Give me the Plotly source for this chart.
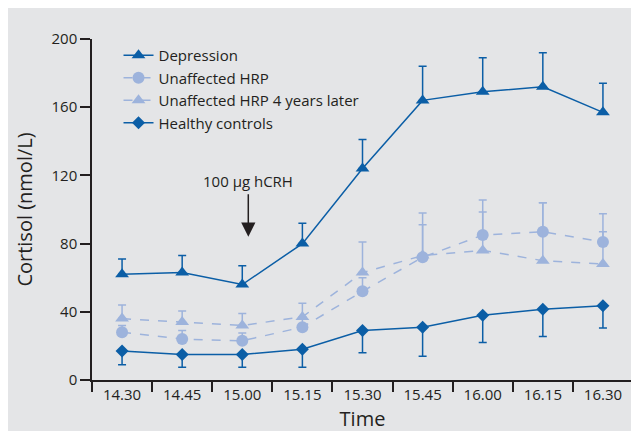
import plotly.graph_objects as go

times = ["14.30", "14.45", "15.00", "15.15", "15.30", "15.45", "16.00", "16.15", "16.30"]

depression = [62, 63, 56, 80, 124, 164, 169, 172, 157]
depression_err_up = [9, 10, 11, 12, 17, 20, 20, 20, 17]

hrp = [28, 24, 23, 31, 52, 72, 85, 87, 81]
hrp_err_up = [4, 5, 4.5, 5, 8, 19, 20.5, 17, 16.5]

hrp4 = [36, 34, 32, 37, 63, 73, 76, 70, 68]
hrp4_err_up = [8, 6.5, 7, 8, 18, 25, 22.5, 34, 19]

healthy = [17, 15, 15, 18, 29, 31, 38, 41.5, 43.5]
healthy_err_down = [8, 7.5, 7.5, 10.5, 13, 17, 16, 16, 13]

dark = "#0b5ea6"
light = "#9db3dc"
ink = "#231f20"
bg = "#e4e5e7"
font_family = "Open Sans, Noto Sans, sans-serif"

fig = go.Figure()

fig.add_trace(go.Scatter(
    x=times, y=depression, name="Depression", mode="lines+markers",
    line=dict(color=dark, width=1.5),
    marker=dict(symbol="triangle-up", size=12, color=dark),
    error_y=dict(type="data", symmetric=False, array=depression_err_up,
                 arrayminus=[0] * len(times), color=dark, thickness=1.5, width=4),
))
fig.add_trace(go.Scatter(
    x=times, y=hrp, name="Unaffected HRP", mode="lines+markers",
    line=dict(color=light, width=1.5, dash="dash"),
    marker=dict(symbol="circle", size=12, color=light),
    error_y=dict(type="data", symmetric=False, array=hrp_err_up,
                 arrayminus=[0] * len(times), color=light, thickness=1.5, width=4),
))
fig.add_trace(go.Scatter(
    x=times, y=hrp4, name="Unaffected HRP 4 years later", mode="lines+markers",
    line=dict(color=light, width=1.5, dash="dash"),
    marker=dict(symbol="triangle-up", size=12, color=light),
    error_y=dict(type="data", symmetric=False, array=hrp4_err_up,
                 arrayminus=[0] * len(times), color=light, thickness=1.5, width=4),
))
fig.add_trace(go.Scatter(
    x=times, y=healthy, name="Healthy controls", mode="lines+markers",
    line=dict(color=dark, width=1.5),
    marker=dict(symbol="diamond", size=10, color=dark),
    error_y=dict(type="data", symmetric=False, array=[0] * len(times),
                 arrayminus=healthy_err_down, color=dark, thickness=1.5, width=4),
))

fig.add_annotation(x=2.1, y=84, xref="x", yref="y", text="", showarrow=True,
                   ax=0, ay=-44, arrowhead=2, arrowsize=1.9, arrowwidth=1.5,
                   arrowcolor=ink)
fig.add_annotation(x=2.1, y=117, xref="x", yref="y", text="100 µg hCRH",
                   showarrow=False, font=dict(size=15, color=ink, family=font_family))

fig.update_layout(
    width=639, height=431,
    margin=dict(l=84, r=14, t=31, b=59, autoexpand=False),
    paper_bgcolor=bg,
    plot_bgcolor=bg,
    font=dict(family=font_family, color=ink, size=15),
    showlegend=True,
    legend=dict(x=0.049, y=1.0, xanchor="left", yanchor="top",
                bgcolor="rgba(0,0,0,0)", font=dict(size=15, color=ink),
                itemwidth=30, tracegroupgap=0),
    xaxis=dict(
        type="category", range=[-0.5, 8.5], automargin=False,
        showline=True, linecolor=ink, linewidth=1.5,
        ticks="outside", tickson="boundaries", ticklen=10, tickwidth=1.5,
        tickcolor=ink, showgrid=False, zeroline=False,
        tickfont=dict(size=15, color=ink),
        title=dict(text="Time", font=dict(size=20, color=ink), standoff=9),
    ),
    yaxis=dict(
        range=[0, 200], tickvals=[0, 40, 80, 120, 160, 200], automargin=False,
        showline=True, linecolor=ink, linewidth=1.5,
        ticks="outside", ticklen=10, tickwidth=1.5, tickcolor=ink,
        showgrid=False, zeroline=False,
        tickfont=dict(size=15, color=ink),
        title=dict(text="Cortisol (nmol/L)", font=dict(size=20, color=ink), standoff=14),
    ),
)

fig.write_html("out.html")
